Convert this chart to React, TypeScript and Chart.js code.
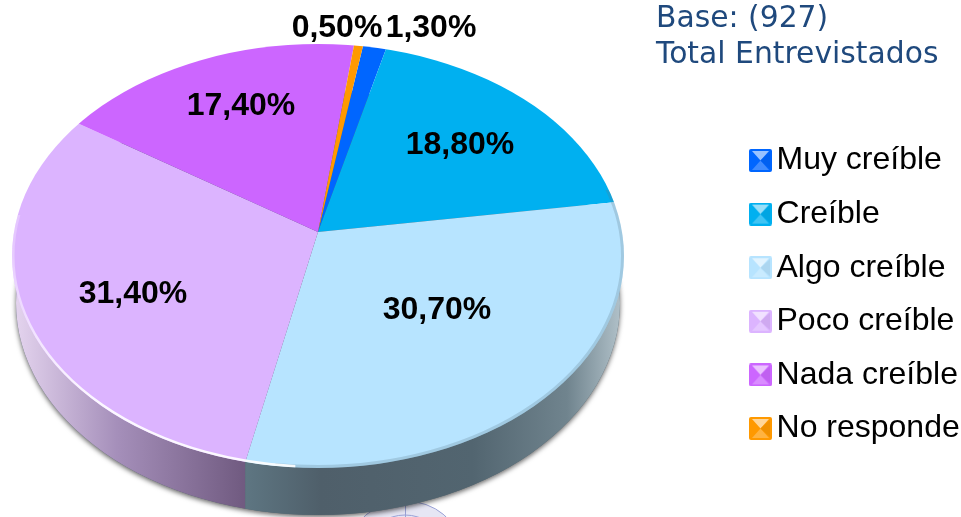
import React, { useEffect, useRef } from "react";
import { Chart, registerables } from "chart.js";

Chart.register(...registerables);

const categories = ["Muy creíble", "Creíble", "Algo creíble", "Poco creíble", "Nada creíble", "No responde"];
const seriesValues = [1.3, 18.8, 30.7, 31.4, 17.4, 0.5];
const valueLabels = ["1,30%", "18,80%", "30,70%", "31,40%", "17,40%", "0,50%"];
const baseLines = ["Base: (927)", "Total Entrevistados"];

const sliceColors = ["#0066FF", "#00B0F0", "#B7E4FF", "#DCB4FF", "#CC66FF", "#FF9900"];
// label centre, relative to the pie apex
const labelNudges = [
  [113, -204],
  [142, -87],
  [119, 78],
  [-185, 62],
  [-77, -126],
  [19, -204],
];

const APEX = { x: 318, y: 232 };
const TILT = 0.655;
const FACE = { x: 318, y: 256, rx: 306, ry: 212 };
const WALL = { x: 318, y: 303, rx: 302, ry: 212 };

function mix(hex: string, target: number, t: number) {
  const n = parseInt(hex.slice(1), 16);
  const c = [(n >> 16) & 255, (n >> 8) & 255, n & 255].map((v) => Math.round(v + (target - v) * t));
  return `rgb(${c[0]},${c[1]},${c[2]})`;
}

function makeSwatch(color: string) {
  const s = 23;
  const cv = document.createElement("canvas");
  cv.width = s;
  cv.height = s;
  const c = cv.getContext("2d")!;
  c.beginPath();
  c.roundRect(0, 0, s, s, 2);
  c.clip();
  c.fillStyle = color;
  c.fillRect(0, 0, s, s);
  const tri = (pts: number[][], fill: string) => {
    c.beginPath();
    c.moveTo(pts[0][0], pts[0][1]);
    c.lineTo(pts[1][0], pts[1][1]);
    c.lineTo(pts[2][0], pts[2][1]);
    c.closePath();
    c.fillStyle = fill;
    c.fill();
  };
  const m = s / 2;
  tri([[3, 2], [s - 3, 2], [m, m]], mix(color, 255, 0.6));
  tri([[3, s - 2], [s - 3, s - 2], [m, m]], mix(color, 255, 0.25));
  tri([[s - 2, 3], [s - 2, s - 3], [m, m]], mix(color, 0, 0.06));
  return cv;
}

// where a ray leaving the apex at a slice angle meets the rim of the top face
function rimX(angle: number) {
  const dx = Math.cos(angle);
  const dy = Math.sin(angle) * TILT;
  const oy = APEX.y - FACE.y;
  const a = (dx * dx) / (FACE.rx * FACE.rx) + (dy * dy) / (FACE.ry * FACE.ry);
  const b = (2 * oy * dy) / (FACE.ry * FACE.ry);
  const c = (oy * oy) / (FACE.ry * FACE.ry) - 1;
  const t = (-b + Math.sqrt(b * b - 4 * a * c)) / (2 * a);
  return APEX.x + dx * t;
}

const pie3d = {
  id: "pie3d",
  afterLayout(chart: any) {
    // push the legend's left edge right: the reference's rows sit closer to the edge
    if (chart.legend) chart.legend.left += 8.75;
  },
  beforeDatasetsDraw(chart: any) {
    const ctx = chart.ctx as CanvasRenderingContext2D;
    const arcs = chart.getDatasetMeta(0).data;
    const seam = rimX(arcs[2].endAngle);

    // stray drawing fragment peeking out below the pie
    ctx.save();
    ctx.beginPath();
    ctx.ellipse(405, 548, 55, 47, 0, 0, Math.PI * 2);
    ctx.fillStyle = "#E6E6F4";
    ctx.strokeStyle = "#9AA2D6";
    ctx.lineWidth = 1;
    ctx.fill();
    ctx.stroke();
    ctx.beginPath();
    ctx.ellipse(405, 540, 33, 25, 0, 0, Math.PI * 2);
    ctx.stroke();
    ctx.beginPath();
    ctx.moveTo(405.5, 495);
    ctx.lineTo(405.5, 517);
    ctx.stroke();
    ctx.restore();

    // side wall
    const wallPath = () => {
      ctx.beginPath();
      ctx.ellipse(WALL.x, WALL.y, WALL.rx, WALL.ry, 0, 0, Math.PI * 2);
      ctx.closePath();
    };
    ctx.save();
    ctx.shadowColor = "rgba(0,0,0,0.6)";
    ctx.shadowBlur = 5;
    ctx.shadowOffsetY = 2;
    wallPath();
    ctx.fillStyle = "#556670";
    ctx.fill();
    ctx.restore();

    ctx.save();
    wallPath();
    ctx.clip();
    const lilac = ctx.createLinearGradient(12, 0, seam, 0);
    lilac.addColorStop(0, "#E6D6F0");
    lilac.addColorStop(0.45, "#A58FBA");
    lilac.addColorStop(1, "#705A80");
    ctx.fillStyle = lilac;
    ctx.fillRect(0, 200, seam, 317);
    const teal = ctx.createLinearGradient(seam, 0, 624, 0);
    teal.addColorStop(0, "#5E7682");
    teal.addColorStop(0.2, "#4F5F6A");
    teal.addColorStop(0.6, "#526570");
    teal.addColorStop(0.85, "#70848E");
    teal.addColorStop(1, "#B4C4CC");
    ctx.fillStyle = teal;
    ctx.fillRect(seam, 200, 624 - seam, 317);
    ctx.restore();

    // top face: library arcs, tilted about the apex and trimmed by the rim
    const a = arcs[0];
    ctx.save();
    ctx.beginPath();
    ctx.ellipse(FACE.x, FACE.y, FACE.rx, FACE.ry, 0, 0, Math.PI * 2);
    ctx.clip();
    ctx.translate(APEX.x, APEX.y);
    ctx.scale(1, TILT);
    ctx.translate(-a.x, -a.y);
  },
  afterDatasetsDraw(chart: any) {
    const ctx = chart.ctx as CanvasRenderingContext2D;
    const arcs = chart.getDatasetMeta(0).data;
    ctx.restore();

    // rim light
    const seam = rimX(arcs[2].endAngle);
    const rim = () => {
      ctx.beginPath();
      ctx.ellipse(FACE.x, FACE.y, FACE.rx - 1, FACE.ry - 1, 0, 0, Math.PI * 2);
    };
    ctx.save();
    ctx.beginPath();
    ctx.ellipse(FACE.x, FACE.y, FACE.rx, FACE.ry, 0, 0, Math.PI * 2);
    ctx.clip();

    ctx.save();
    ctx.beginPath();
    ctx.rect(seam + 30, 190, 700, 320);
    ctx.clip();
    rim();
    ctx.lineWidth = 4;
    ctx.strokeStyle = "rgba(90,120,135,0.25)";
    ctx.stroke();
    ctx.restore();

    ctx.beginPath();
    ctx.rect(0, 215, seam + 50, 300);
    ctx.clip();
    const light = ctx.createLinearGradient(0, 240, 0, 400);
    light.addColorStop(0, "rgba(255,255,255,0.25)");
    light.addColorStop(1, "rgba(255,255,255,0.9)");
    rim();
    ctx.lineWidth = 3;
    ctx.strokeStyle = light;
    ctx.stroke();
    ctx.restore();
  },
  afterDraw(chart: any) {
    const ctx = chart.ctx as CanvasRenderingContext2D;
    ctx.save();
    ctx.fillStyle = "#000000";
    ctx.font = 'bold 32px "Liberation Sans"';
    ctx.textAlign = "center";
    ctx.textBaseline = "middle";
    valueLabels.forEach((t, i) => {
      ctx.fillText(t, APEX.x + labelNudges[i][0], APEX.y + labelNudges[i][1]);
    });
    ctx.textAlign = "left";
    ctx.textBaseline = "alphabetic";
    ctx.fillStyle = "#1F497D";
    ctx.font = '29.8px "DejaVu Sans"';
    ctx.fillText(baseLines[0], 656, 27);
    ctx.fillText(baseLines[1], 656, 62.5);
    ctx.restore();
  },
};

export default function App() {
  const ref = useRef<HTMLCanvasElement>(null);
  useEffect(() => {
    const swatches = sliceColors.map(makeSwatch);
    const chart = new Chart(ref.current!, {
      type: "pie",
      data: {
        labels: categories,
        datasets: [
          {
            data: seriesValues,
            backgroundColor: sliceColors,
            borderWidth: 0,
            clip: false,
          } as any,
        ],
      },
      options: {
        animation: false,
        responsive: false,
        rotation: 9,
        radius: 420,
        layout: { padding: { top: 72 } },
        plugins: {
          tooltip: { enabled: false },
          legend: {
            position: "right",
            labels: {
              usePointStyle: true,
              pointStyleWidth: 0.1,
              padding: 21.6,
              color: "#000000",
              font: { family: '"Liberation Sans"', size: 32 },
              generateLabels: () =>
                categories.map((text, i) => ({
                  text,
                  index: i,
                  pointStyle: swatches[i],
                  fillStyle: sliceColors[i],
                  strokeStyle: sliceColors[i],
                  lineWidth: 0,
                  hidden: false,
                  fontColor: "#000000",
                })),
            },
          },
        },
      } as any,
      plugins: [pie3d as any],
    });
    return () => chart.destroy();
  }, []);
  return (
    <div style={{ position: "absolute", left: 0, top: 0, width: 961, height: 517, background: "#fff", overflow: "hidden" }}>
      <canvas ref={ref} width={961} height={517} style={{ display: "block" }} />
    </div>
  );
}
